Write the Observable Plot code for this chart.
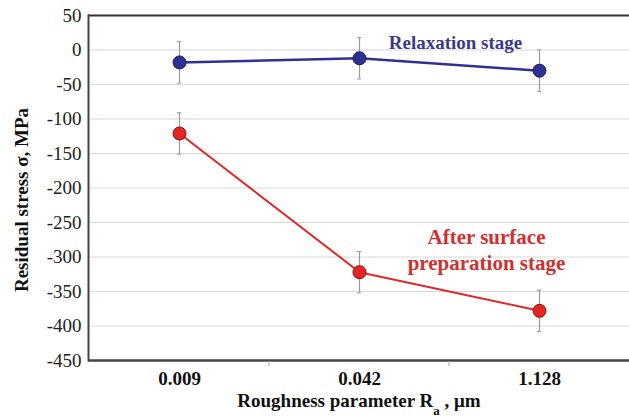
<!DOCTYPE html>
<html>
<head>
<meta charset="utf-8">
<script src="https://cdn.jsdelivr.net/npm/d3@7"></script>
<script src="https://cdn.jsdelivr.net/npm/@observablehq/plot@0.6"></script>
<style>
  html, body { margin: 0; padding: 0; background: #fff; }
  svg, svg text, svg tspan { font-family: "Liberation Serif", "Times New Roman", serif !important; }
</style>
</head>
<body>
<div id="chart"></div>
<script>
// Roughness categories (µm)
const roughness = ["0.009", "0.042", "1.128"];
// Residual stress, MPa
const relaxation = [-18, -12, -30];
const afterPreparation = [-121, -322, -378];
// Error half-widths, MPa
const relaxationErr = [30, 30, 30];
const afterPreparationErr = [30, 30, 30];
const yTicks = [50, 0, -50, -100, -150, -200, -250, -300, -350, -400, -450];

const blue = "#2e3192";
const red = "#e32626";
const serif = "Liberation Serif";

const rows = (vals, errs, series) =>
  roughness.map((r, i) => ({r, v: vals[i], lo: vals[i] - errs[i], hi: vals[i] + errs[i], series}));
const relaxRows = rows(relaxation, relaxationErr, "Relaxation stage");
const prepRows = rows(afterPreparation, afterPreparationErr, "After surface preparation stage");

const plot = Plot.plot({
  width: 629,
  height: 420,
  marginLeft: 88,
  marginRight: 0,
  marginTop: 15,
  marginBottom: 60,
  style: {fontSize: "18px", color: "#111", fontFamily: serif},
  x: {type: "band", domain: roughness, padding: 0, label: null, tickSize: 0, tickPadding: 10},
  y: {domain: [-450, 50], ticks: yTicks, tickSize: 0, tickPadding: 8, label: null},
  marks: [
    Plot.gridY(yTicks, {stroke: "#d8d8d8", strokeOpacity: 1}),
    Plot.axisY(yTicks, {tickSize: 0, tickPadding: 7, fontSize: 19, fontFamily: serif, label: null, tickFormat: d => String(d), fill: "#222"}),
    Plot.axisX({tickSize: 0, tickPadding: 11, fontSize: 19, fontFamily: serif, fontWeight: "bold", label: null, fill: "#111"}),
    Plot.ruleY([50], {stroke: "#333", strokeWidth: 2}),
    Plot.ruleY([-450], {stroke: "#444", strokeWidth: 2.5}),
    Plot.frame({anchor: "left", stroke: "#444", strokeWidth: 2}),
    // error bars
    Plot.ruleX(relaxRows, {x: "r", y1: "lo", y2: "hi", stroke: "#9a9a9a", strokeWidth: 1.2}),
    Plot.ruleX(prepRows, {x: "r", y1: "lo", y2: "hi", stroke: "#9a9a9a", strokeWidth: 1.2}),
    Plot.tickY(relaxRows.flatMap(d => [{r: d.r, y: d.lo}, {r: d.r, y: d.hi}]), {x: "r", y: "y", stroke: "#9a9a9a", insetLeft: 88, insetRight: 88}),
    Plot.tickY(prepRows.flatMap(d => [{r: d.r, y: d.lo}, {r: d.r, y: d.hi}]), {x: "r", y: "y", stroke: "#9a9a9a", insetLeft: 88, insetRight: 88}),
    // series
    Plot.line(relaxRows, {x: "r", y: "v", stroke: blue, strokeWidth: 2.5}),
    Plot.line(prepRows, {x: "r", y: "v", stroke: red, strokeWidth: 2}),
    Plot.dot(relaxRows, {x: "r", y: "v", r: 6.5, fill: blue, stroke: "#1c1e60", strokeWidth: 1}),
    Plot.dot(prepRows, {x: "r", y: "v", r: 6.5, fill: red, stroke: "#8a1010", strokeWidth: 1}),
    // series labels
    Plot.text(["Relaxation stage"], {x: () => "0.042", y: () => 11, dx: 96, text: d => d, fill: "#3a3a8c", fontWeight: "bold", fontSize: 19, fontFamily: serif}),
    Plot.text(["After surface\npreparation stage"], {x: () => "1.128", y: () => -288, dx: -53, text: d => d, fill: "#d03030", fontWeight: "bold", fontSize: 21, lineHeight: 1.25, fontFamily: serif}),
    // axis titles
    Plot.text(["Residual stress σ, MPa"], {frameAnchor: "left", textAnchor: "middle", dx: -67, dy: 12, rotate: -90, text: d => d, fontWeight: "bold", fontSize: 19, fill: "#111", fontFamily: serif}),
    Plot.text(["Roughness parameter Ra , μm"], {frameAnchor: "bottom", dy: 46, text: d => d, fontWeight: "bold", fontSize: 19, fill: "#111", fontFamily: serif, className: "xtitle"})
  ]
});

// subscript "a" in the x-axis title
const xt = d3.select(plot).select(".xtitle text");
if (!xt.empty()) {
  xt.text(null);
  xt.append("tspan").text("Roughness parameter R");
  xt.append("tspan").attr("baseline-shift", "sub").attr("font-size", 13).text("a");
  xt.append("tspan").text(" , μm");
}

// small tick marks on the x axis between categories
const xs = plot.scale("x");
const g = d3.select(plot).append("g").attr("stroke", "#aaa");
roughness.slice(1).forEach(c => {
  const px = xs.apply(c);
  g.append("line").attr("x1", px).attr("x2", px).attr("y1", 361).attr("y2", 366);
});

document.getElementById("chart").appendChild(plot);
</script>
</body>
</html>
